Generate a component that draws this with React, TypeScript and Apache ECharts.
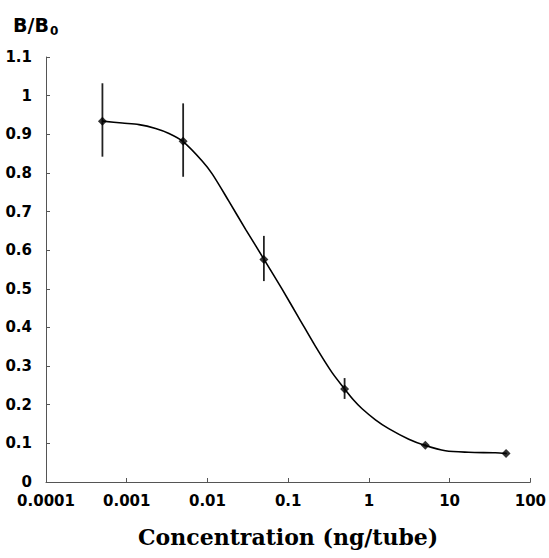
import React, { useEffect, useRef } from "react";
import * as echarts from "echarts";

// Concentrations (ng/tube) of the measured standards
const concentrations = [0.0005, 0.005, 0.05, 0.5, 5, 50];
// Mean B/B0 at each concentration
const meanValues = [0.934, 0.882, 0.576, 0.241, 0.095, 0.074];
// Error bar low / high ends
const errLow = [0.842, 0.79, 0.52, 0.215, 0.092, 0.072];
const errHigh = [1.032, 0.98, 0.637, 0.269, 0.098, 0.076];

// Fitted curve
const curveX = [
  0.0005, 0.00088, 0.00142, 0.00228, 0.00334, 0.005, 0.0086, 0.0115, 0.0184,
  0.0297, 0.05, 0.0841, 0.1355, 0.218, 0.35, 0.5, 0.65, 0.824, 1.206, 1.76,
  3.12, 5, 8.87, 17.2, 36.9, 50,
];
const curveY = [
  0.934, 0.929, 0.925, 0.915, 0.902, 0.881, 0.831, 0.797, 0.727, 0.654, 0.577,
  0.499, 0.425, 0.351, 0.283, 0.241, 0.2116, 0.1896, 0.161, 0.138, 0.1106,
  0.0943, 0.0808, 0.0769, 0.0756, 0.074,
];

const xTickValues = [0.0001, 0.001, 0.01, 0.1, 1, 10, 100];
const xTickLabels = ["0.0001", "0.001", "0.01", "0.1", "1", "10", "100"];
const yTickLabels = ["0", "0.1", "0.2", "0.3", "0.4", "0.5", "0.6", "0.7", "0.8", "0.9", "1", "1.1"];

const yTitle = "B/B";
const yTitleSub = "0";
const xTitle = "Concentration (ng/tube)";

export default function App() {
  const ref = useRef<HTMLDivElement>(null);

  useEffect(() => {
    document.body.style.margin = "0";
    if (!ref.current) return;
    const chart = echarts.init(ref.current, undefined, { renderer: "svg" });

    const labelFont = "DejaVu Sans";
    const option: any = {
      animation: false,
      backgroundColor: "#ffffff",
      grid: { left: 46, right: 17, top: 57, bottom: 76 },
      graphic: [
        {
          type: "text",
          x: 13,
          y: 25,
          style: {
            text: yTitle,
            fontFamily: labelFont,
            fontWeight: "bold",
            fontSize: 19,
            fill: "#000",
            align: "left",
            verticalAlign: "middle",
          },
        },
        {
          type: "text",
          x: 50,
          y: 31,
          style: {
            text: yTitleSub,
            fontFamily: labelFont,
            fontWeight: "bold",
            fontSize: 12,
            fill: "#000",
            align: "left",
            verticalAlign: "middle",
          },
        },
      ],
      xAxis: {
        type: "log",
        logBase: 10,
        min: 0.0001,
        max: 100,
        name: xTitle,
        nameLocation: "middle",
        nameGap: 44,
        nameTextStyle: {
          fontFamily: "DejaVu Serif",
          fontWeight: "bold",
          fontSize: 22,
          color: "#000",
        },
        axisLine: { show: true, lineStyle: { color: "#555", width: 1 } },
        axisTick: { show: true, inside: true, length: 4, lineStyle: { color: "#555" } },
        minorTick: { show: false },
        splitLine: { show: false },
        axisLabel: {
          margin: 11,
          fontFamily: labelFont,
          fontWeight: "bold",
          fontSize: 15,
          color: "#000",
          formatter: (v: number) => {
            let best = 0;
            let bd = Infinity;
            xTickValues.forEach((t, i) => {
              const d = Math.abs(Math.log10(t) - Math.log10(v));
              if (d < bd) {
                bd = d;
                best = i;
              }
            });
            return xTickLabels[best];
          },
        },
      },
      yAxis: {
        type: "value",
        min: 0,
        max: 1.1,
        interval: 0.1,
        axisLine: { show: true, lineStyle: { color: "#555", width: 1 } },
        axisTick: { show: true, inside: true, length: 4, lineStyle: { color: "#555" } },
        splitLine: { show: false },
        axisLabel: {
          margin: 14,
          fontFamily: labelFont,
          fontWeight: "bold",
          fontSize: 15,
          color: "#000",
          formatter: (v: number) => yTickLabels[Math.round(v * 10)] ?? String(v),
        },
      },
      series: [
        {
          type: "line",
          data: curveX.map((x, i) => [x, curveY[i]]),
          smooth: 0.3,
          showSymbol: false,
          symbol: "none",
          lineStyle: { color: "#000", width: 1.6 },
          z: 2,
        },
        {
          type: "custom",
          data: concentrations.map((x, i) => [x, errLow[i], errHigh[i]]),
          encode: { x: 0, y: [1, 2] },
          renderItem: (params: any, api: any) => {
            const x = api.value(0);
            const lo = api.coord([x, api.value(1)]);
            const hi = api.coord([x, api.value(2)]);
            return {
              type: "line",
              shape: { x1: lo[0], y1: lo[1], x2: hi[0], y2: hi[1] },
              style: { stroke: "#222", lineWidth: 1.8 },
            };
          },
          z: 3,
        },
        {
          type: "scatter",
          data: concentrations.map((x, i) => [x, meanValues[i]]),
          symbol: "diamond",
          symbolSize: 9,
          itemStyle: { color: "#000" },
          z: 4,
        },
      ],
    };

    chart.setOption(option);
    return () => chart.dispose();
  }, []);

  return <div ref={ref} style={{ width: 549, height: 558 }} />;
}
